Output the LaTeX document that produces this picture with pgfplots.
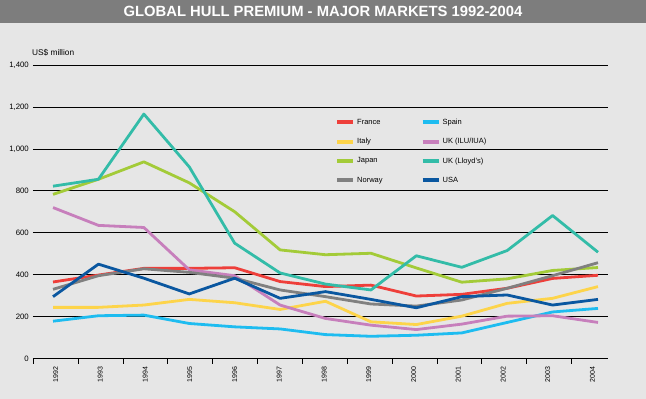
\documentclass[border=0pt]{standalone}
\usepackage{pgfplots}
\pgfplotsset{compat=1.18}
\usepackage{fontspec}
\setmainfont{Liberation Sans}
\definecolor{bgc}{HTML}{E6E6E6}
\definecolor{titlec}{HTML}{7D7D7D}
\definecolor{cfrance}{HTML}{EE3F3A}
\definecolor{cspain}{HTML}{1EBCF0}
\definecolor{citaly}{HTML}{FDD44A}
\definecolor{cilu}{HTML}{C77FBC}
\definecolor{cjapan}{HTML}{A3CB38}
\definecolor{clloyds}{HTML}{33BCA8}
\definecolor{cnorway}{HTML}{808080}
\definecolor{cusa}{HTML}{0A57A0}
\begin{document}
\begin{tikzpicture}
\fill[bgc] (0pt,0pt) rectangle (646pt,-399pt);
\fill[titlec] (0pt,0pt) rectangle (646pt,-23pt);
\node[white, font=\bfseries\fontsize{14.8}{16}\selectfont] at (323pt,-11.5pt) {GLOBAL HULL PREMIUM - MAJOR MARKETS 1992-2004};
\node[anchor=west, font=\fontsize{8.3}{9}\selectfont, inner sep=0pt] at (32pt,-52.5pt) {US\$ million};
\begin{axis}[
  at={(33pt,-358.5pt)}, anchor=south west,
  scale only axis, width=575pt, height=293.5pt,
  xmin=1991.559, xmax=2004.22, ymin=0, ymax=1400,
  clip=false,
  axis line style={draw=none},
  xtick pos=bottom, ytick pos=left,
  xtick={1992.06,1993.04,1994.03,1995.01,1996.00,1996.98,1997.97,1998.95,1999.94,2000.92,2001.91,2002.89,2003.88},
  xticklabels={1992,1993,1994,1995,1996,1997,1998,1999,2000,2001,2002,2003,2004},
  xtick style={draw=none},
  xticklabel style={yshift=-8pt, rotate=90, anchor=east, font=\fontsize{7}{8}\selectfont, inner sep=0pt},
  ytick={0,200,...,1400},
  ytick style={draw=none},
  ymajorgrids,
  y grid style={black, line width=0.7pt},
  yticklabel style={font=\fontsize{7.8}{8}\selectfont, anchor=east, inner sep=0pt, xshift=-4pt},
  /pgf/number format/assume math mode=true,
  /pgf/number format/1000 sep={,},
  legend columns=2,
  legend cell align=left,
  legend style={draw=none, fill=none, at={(rel axis cs:0.52,0.8313)}, anchor=north west,
    font=\fontsize{7.5}{9}\selectfont, row sep=8.5pt,
    /tikz/every even column/.append style={column sep=36pt}},
  legend image code/.code={\draw[line width=4pt] (0pt,0pt) -- (16pt,0pt);},
  every axis plot/.append style={line width=2.8pt, line join=round},
]
\addplot[cfrance] coordinates {(1992,365)(1993,398)(1994,430)(1995,430)(1996,433)(1997,367)(1998,343)(1999,350)(2000,298)(2001,306)(2002,335)(2003,382)(2004,397)};
\addlegendentry{France}
\addplot[cspain] coordinates {(1992,178)(1993,204)(1994,207)(1995,167)(1996,151)(1997,141)(1998,114)(1999,106)(2000,111)(2001,122)(2002,172)(2003,222)(2004,239)};
\addlegendentry{Spain}
\addplot[citaly] coordinates {(1992,244)(1993,244)(1994,255)(1995,282)(1996,266)(1997,234)(1998,273)(1999,175)(2000,162)(2001,202)(2002,263)(2003,287)(2004,343)};
\addlegendentry{Italy}
\addplot[cilu] coordinates {(1992,720)(1993,635)(1994,625)(1995,423)(1996,395)(1997,255)(1998,191)(1999,159)(2000,138)(2001,164)(2002,202)(2003,204)(2004,172)};
\addlegendentry{UK (ILU/IUA)}
\addplot[cjapan] coordinates {(1992,783)(1993,855)(1994,938)(1995,838)(1996,700)(1997,518)(1998,495)(1999,502)(2000,432)(2001,364)(2002,380)(2003,420)(2004,434)};
\addlegendentry{Japan}
\addplot[clloyds] coordinates {(1992,822)(1993,855)(1994,1166)(1995,914)(1996,550)(1997,408)(1998,355)(1999,327)(2000,490)(2001,435)(2002,515)(2003,682)(2004,507)};
\addlegendentry{UK (Lloyd's)}
\addplot[cnorway] coordinates {(1992,330)(1993,395)(1994,428)(1995,411)(1996,383)(1997,327)(1998,295)(1999,260)(2000,250)(2001,279)(2002,335)(2003,395)(2004,457)};
\addlegendentry{Norway}
\addplot[cusa] coordinates {(1992,295)(1993,450)(1994,383)(1995,308)(1996,383)(1997,287)(1998,319)(1999,282)(2000,242)(2001,295)(2002,303)(2003,255)(2004,282)};
\addlegendentry{USA}
\end{axis}
% x axis line and category separator ticks
\draw[black, line width=0.8pt] (33pt,-358.5pt) -- (608pt,-358.5pt);
\foreach \k in {0,...,12} {
  \draw[black, line width=0.8pt] ({33.3pt+44.85pt*\k},-358.5pt) -- ++(0pt,-5pt);
}
\pgfresetboundingbox
\useasboundingbox (0pt,0pt) rectangle (646pt,-399pt);
\end{tikzpicture}
\end{document}
